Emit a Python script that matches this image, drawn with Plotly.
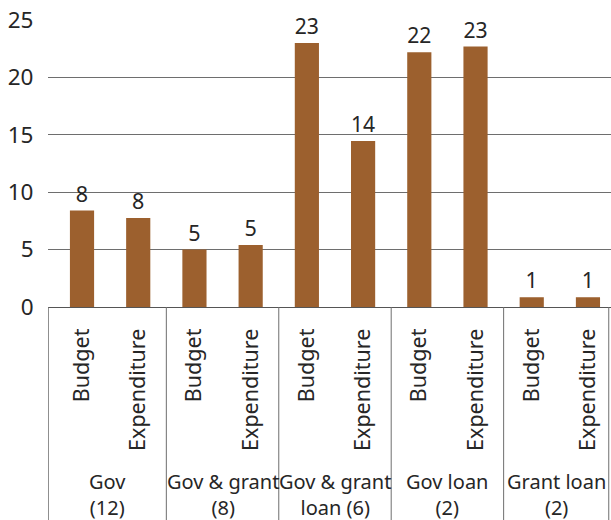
import plotly.graph_objects as go

# Funding categories (number of projects in brackets)
groups = ["Gov<br>(12)", "Gov & grant<br>(8)", "Gov & grant<br>loan (6)", "Gov loan<br>(2)", "Grant loan<br>(2)"]
measures = ["Budget", "Expenditure"]

# Values per bar, in group order: Budget, Expenditure
values = [8.4, 7.75, 5.0, 5.4, 23.0, 14.45, 22.2, 22.7, 0.85, 0.85]

y_ticks = [0, 5, 10, 15, 20, 25]

FONT = "Noto Sans"
TEXT = "#262626"
BAR = "#9C602E"

x_pos = list(range(len(values)))
tick_text = [measures[i % 2] for i in x_pos]

# Cell borders of the category area (outer edges, then between pairs)
borders = [-0.6, 1.5, 3.5, 5.5, 7.5, 9.37]

fig = go.Figure()
fig.add_trace(go.Bar(
    x=x_pos,
    y=values,
    width=0.43,
    marker=dict(color=BAR, line=dict(width=0)),
    text=values,
    texttemplate="%{y:.0f}",
    textposition="outside",
    textfont=dict(family=FONT, size=21.5, color=TEXT),
    cliponaxis=False,
    hoverinfo="skip",
))

# Group labels centred in each cell
for g, label in enumerate(groups):
    fig.add_annotation(
        x=(borders[g] + borders[g + 1]) / 2, xref="x",
        y=-0.653, yref="paper",
        text=label, showarrow=False,
        font=dict(family=FONT, size=20, color=TEXT),
        xanchor="center", yanchor="middle",
    )

# Vertical dividers in the category area
for xb in borders:
    fig.add_shape(
        type="line", xref="x", yref="paper",
        x0=xb, x1=xb, y0=0, y1=-0.75,
        line=dict(color="#6e6e6e", width=1),
    )

fig.update_layout(
    width=611, height=520,
    margin=dict(l=48, r=0, t=20, b=213),
    plot_bgcolor="white",
    paper_bgcolor="white",
    showlegend=False,
    font=dict(family=FONT, size=21, color=TEXT),
)
fig.update_xaxes(
    range=[-0.605, 9.41],
    tickvals=x_pos,
    ticktext=tick_text,
    tickangle=-90,
    ticks="outside", ticklen=12, tickcolor="rgba(0,0,0,0)",
    tickfont=dict(family=FONT, size=21.5, color=TEXT),
    showgrid=False,
    showline=True, linecolor="#555555", linewidth=1,
    zeroline=False,
)
fig.update_yaxes(
    range=[0, 25],
    tickvals=y_ticks,
    ticks="outside", ticklen=9, tickcolor="rgba(0,0,0,0)",
    tickfont=dict(family=FONT, size=22.5, color=TEXT),
    showgrid=True, gridcolor="#6e6e6e", gridwidth=1,
    zeroline=False, showline=False,
)

fig.write_html("out.html")
